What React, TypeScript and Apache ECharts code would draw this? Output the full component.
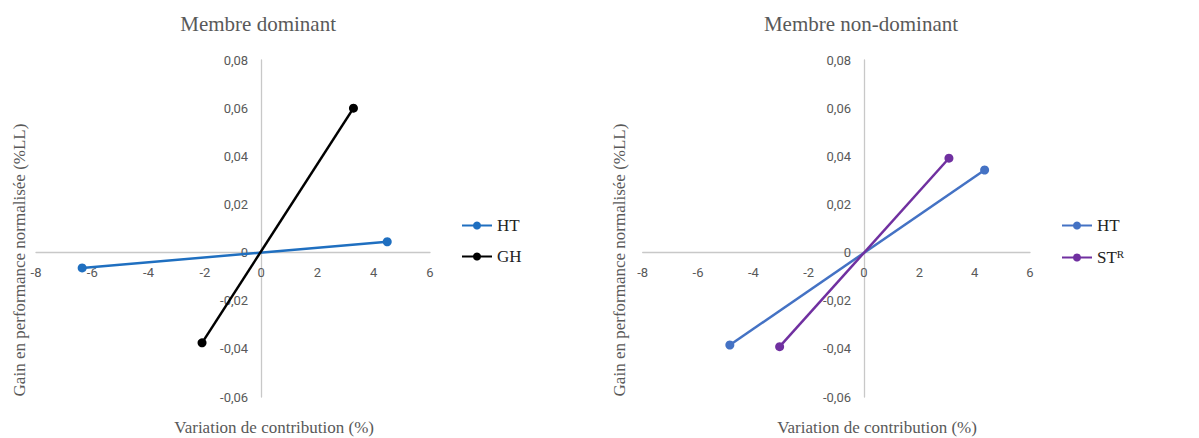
import React, { useEffect, useRef } from "react";
import * as echarts from "echarts";

const leftTitle = "Membre dominant";
const rightTitle = "Membre non-dominant";
const xAxisName = "Variation de contribution (%)";
const yAxisName = "Gain en performance normalisée (%LL)";

const leftHT: [number, number][] = [[-6.36, -0.0064], [4.48, 0.0045]];
const leftGH: [number, number][] = [[-2.1, -0.0375], [3.28, 0.06]];
const rightHT: [number, number][] = [[-4.85, -0.0384], [4.36, 0.0343]];
const rightSTR: [number, number][] = [[-3.05, -0.0391], [3.07, 0.0392]];

const xTicks = [-8, -6, -4, -2, 0, 2, 4, 6];
const yTicks = [-0.06, -0.04, -0.02, 0, 0.02, 0.04, 0.06, 0.08];

const xMin = -8, xMax = 6, xStep = 2;
const yMin = -0.06, yMax = 0.08, yStep = 0.02;

const serif = "Liberation Serif, serif";
const tickFont = "13px Roboto";

const fmtY = (v: number) => Math.abs(v) < 1e-9 ? "0" : v.toFixed(2).replace(".", ",");

type S = { name: string; color: string; data: [number, number][] };

function buildOption(title: string, gridLeft: number, gridWidth: number, series: S[]) {
  const gridTop = 60, gridHeight = 337;
  const cxOff = gridWidth * (0 - xMin) / (xMax - xMin);
  const cx = gridLeft + cxOff;
  const cyOffFromBottom = gridHeight * (0 - yMin) / (yMax - yMin);
  return {
    animation: false,
    grid: { left: gridLeft, top: gridTop, width: gridWidth, height: gridHeight },
    xAxis: {
      type: "value", min: xMin, max: xMax, interval: xStep,
      position: "bottom", offset: -cyOffFromBottom,
      axisLine: { onZero: false, lineStyle: { color: "#c8c8c8", width: 1.3 } },
      axisTick: { show: false },
      splitLine: { show: false },
      axisLabel: { show: false },
    },
    yAxis: {
      type: "value", min: yMin, max: yMax, interval: yStep,
      position: "left", offset: -cxOff,
      axisLine: { show: true, onZero: false, lineStyle: { color: "#c8c8c8", width: 1.3 } },
      axisTick: { show: false },
      splitLine: { show: false },
      axisLabel: { show: false },
    },
    legend: {
      orient: "vertical", left: 456, top: 212, itemGap: 14,
      itemWidth: 30, itemHeight: 10,
      textStyle: { fontFamily: serif, fontSize: 17, color: "#222",
        rich: { a: { fontFamily: serif, fontSize: 17, color: "#222" },
                b: { fontFamily: serif, fontSize: 11, color: "#222", padding: [0, 0, 8, 0] } } },
      formatter: (n: string) => n === "STR" ? "{a|ST}{b|R}" : n,
      data: series.map(s => s.name),
    },
    graphic: [
      { type: "text", x: cx - 3, y: 24, style: { text: title, font: `21px ${serif}`, fill: "#595959", align: "center", verticalAlign: "middle" } },
      { type: "text", x: cx + 13, y: 427, style: { text: xAxisName, font: `17px ${serif}`, fill: "#595959", align: "center", verticalAlign: "middle" } },
      { type: "text", x: 19, y: 260, rotation: Math.PI / 2, style: { text: yAxisName, font: `17px ${serif}`, fill: "#595959", align: "center", verticalAlign: "middle" } },
    ],
    series: [
      {
        type: "custom", clip: false,
        data: xTicks.map(v => [v, 0]),
        renderItem: (params: any, api: any) => {
          const p = api.coord([api.value(0), 0]);
          return { type: "text", x: p[0], y: p[1] + 20, style: { text: String(api.value(0)), font: tickFont, fill: "#595959", backgroundColor: "rgba(255,255,255,0.01)", align: "center", verticalAlign: "middle" } };
        },
      },
      {
        type: "custom", clip: false,
        data: yTicks.map(v => [0, v]),
        renderItem: (params: any, api: any) => {
          const p = api.coord([0, api.value(1)]);
          return { type: "text", x: p[0] - 13, y: p[1], style: { text: fmtY(api.value(1)), font: tickFont, fill: "#595959", backgroundColor: "rgba(255,255,255,0.01)", align: "right", verticalAlign: "middle" } };
        },
      },
      ...series.map(s => ({
        name: s.name, type: "line", data: s.data,
        symbol: "circle", symbolSize: 9, showSymbol: true,
        lineStyle: { color: s.color, width: 2.5 },
        itemStyle: { color: s.color },
      })),
    ],
  };
}

function Chart({ option, left }: { option: any; left: number }) {
  const ref = useRef<HTMLDivElement>(null);
  useEffect(() => {
    const c = echarts.init(ref.current!, undefined, { renderer: "svg" });
    c.setOption(option);
    return () => c.dispose();
  }, []);
  return <div ref={ref} style={{ position: "absolute", left, top: 0, width: 600, height: 438 }} />;
}

export default function App() {
  const o1 = buildOption(leftTitle, 36, 394, [
    { name: "HT", color: "#1f6fc0", data: leftHT },
    { name: "GH", color: "#000000", data: leftGH },
  ]);
  const o2 = buildOption(rightTitle, 42.7, 387.3, [
    { name: "HT", color: "#4472c4", data: rightHT },
    { name: "STR", color: "#7030a0", data: rightSTR },
  ]);
  return (
    <div style={{ position: "absolute", left: 0, top: 0, width: 1199, height: 438, background: "#fff" }}>
      <Chart option={o1} left={0} />
      <Chart option={o2} left={600} />
    </div>
  );
}
